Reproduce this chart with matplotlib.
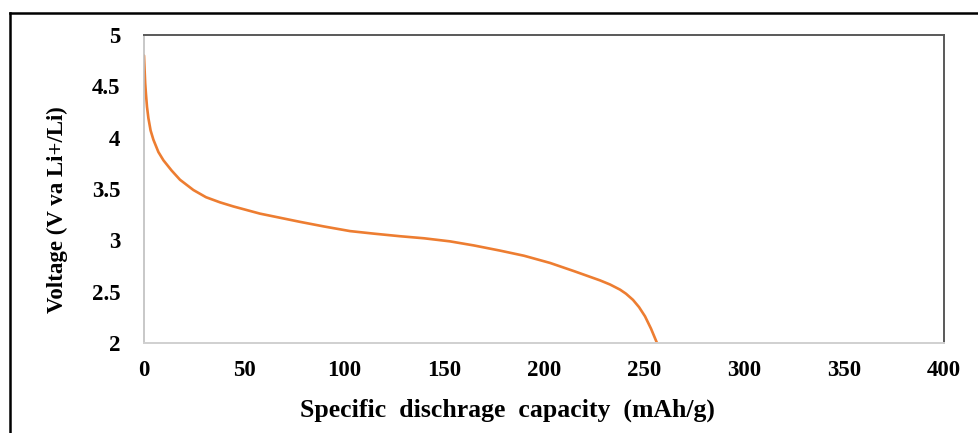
import matplotlib.pyplot as plt
from matplotlib.lines import Line2D

capacity = [0, 0.3, 0.6, 1.0, 1.5, 2.2, 3.3, 4.7, 7.2, 9.7, 13.8, 18, 24.7,
            31, 38, 44.7, 58, 68, 78, 90, 103, 115, 128, 140, 153, 165, 178,
            190, 203, 215, 228, 233, 238, 241, 244.5, 247.5, 250.5, 253.5, 256.5]
voltage = [4.80, 4.66, 4.53, 4.42, 4.30, 4.19, 4.07, 3.98, 3.86, 3.78, 3.68,
           3.59, 3.49, 3.42, 3.37, 3.33, 3.26, 3.22, 3.18, 3.135, 3.09, 3.065,
           3.04, 3.02, 2.99, 2.95, 2.90, 2.85, 2.78, 2.70, 2.61, 2.57, 2.52,
           2.48, 2.42, 2.35, 2.26, 2.14, 2.0]

x_ticks = [0, 50, 100, 150, 200, 250, 300, 350, 400]
y_ticks = [2, 2.5, 3, 3.5, 4, 4.5, 5]
y_tick_labels = ["2", "2.5", "3", "3.5", "4", "4.5", "5"]

plt.rcParams["font.family"] = "Liberation Serif"
plt.rcParams["font.weight"] = "bold"

fig = plt.figure(figsize=(9.79, 4.33), dpi=100)
ax = fig.add_axes([144 / 979, 90 / 433, 800 / 979, 308 / 433])

ax.plot(capacity, voltage, color="#ED7D31", linewidth=1.9,
        solid_joinstyle="round", solid_capstyle="round")

ax.set_xlim(0, 400)
ax.set_ylim(2, 5)
ax.set_xticks(x_ticks)
ax.set_yticks(y_ticks)
ax.set_yticklabels(y_tick_labels)
ax.tick_params(length=0, labelsize=16.5)
ax.tick_params(axis="x", pad=12.5)
ax.tick_params(axis="y", pad=17)

ax.spines["top"].set_color("#595959")
ax.spines["right"].set_color("#595959")
ax.spines["top"].set_linewidth(1.4)
ax.spines["right"].set_linewidth(1.4)
ax.spines["left"].set_color("#bfbfbf")
ax.spines["bottom"].set_color("#d0d0d0")
ax.spines["left"].set_linewidth(1.2)
ax.spines["bottom"].set_linewidth(1.4)

ax.set_xlabel("Specific  dischrage  capacity  (mAh/g)", fontsize=18.5, fontweight="bold")
ax.xaxis.set_label_coords(363 / 800, -56 / 308)
ax.set_ylabel("Voltage (V va Li+/Li)", fontsize=16.5, fontweight="bold")
ax.yaxis.set_label_coords(-76 / 800, 133 / 308)

# outer frame
fig.add_artist(Line2D([10 / 979, 1], [1 - 13 / 433, 1 - 13 / 433],
                      color="black", linewidth=1.8, transform=fig.transFigure))
fig.add_artist(Line2D([10 / 979, 10 / 979], [0, 1 - 13 / 433],
                      color="black", linewidth=1.8, transform=fig.transFigure))

fig.savefig("out.png", dpi=100)
